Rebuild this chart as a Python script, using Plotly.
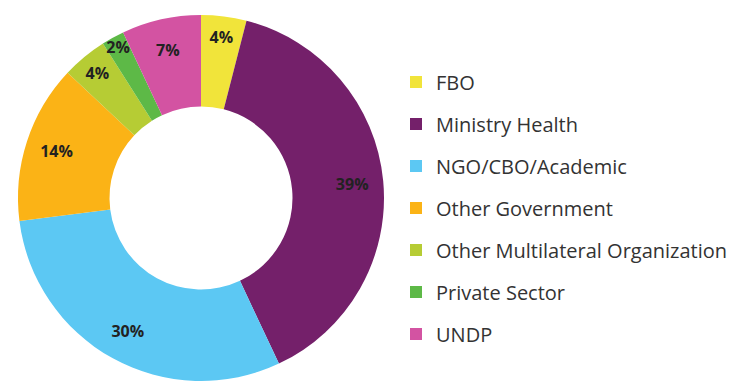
import plotly.graph_objects as go

# Share of funding by partner type (percent)
labels = ["FBO", "Ministry Health", "NGO/CBO/Academic", "Other Government",
          "Other Multilateral Organization", "Private Sector", "UNDP"]
values = [4, 39, 30, 14, 4, 2, 7]
colors = ["#f1e43a", "#74206a", "#5cc8f3", "#fbb316", "#b6cc34", "#5db947", "#d353a2"]

W, H = 736, 381
pie_domain = dict(x=[17 / W, 385 / W], y=[0.0, 366 / H])

fig = go.Figure()

# Coloured ring
fig.add_trace(go.Pie(
    labels=labels,
    values=values,
    sort=False,
    direction="clockwise",
    rotation=0,
    hole=0.5,
    marker=dict(colors=colors, line=dict(width=0)),
    textinfo="none",
    hoverinfo="label+value",
    domain=pie_domain,
    showlegend=False,
))

# Percentage labels, set on the outer part of the ring
fig.add_trace(go.Pie(
    labels=labels,
    values=values,
    sort=False,
    direction="clockwise",
    rotation=0,
    hole=0.66,
    marker=dict(colors=["rgba(0,0,0,0)"] * len(values), line=dict(width=0)),
    texttemplate="%{value}%",
    textposition="inside",
    insidetextorientation="horizontal",
    insidetextfont=dict(family="Open Sans", size=16, color="#222222", weight="bold"),
    hoverinfo="skip",
    domain=pie_domain,
    showlegend=False,
))

# Legend entries, one group each so the rows can be spaced apart
for lab, col in zip(labels, colors):
    fig.add_trace(go.Scatter(
        x=[None], y=[None], mode="markers", name=lab, legendgroup=lab,
        marker=dict(symbol="square", size=12, color=col),
    ))

fig.update_layout(
    width=W, height=H,
    margin=dict(l=0, r=0, t=0, b=0),
    paper_bgcolor="white",
    plot_bgcolor="white",
    xaxis=dict(visible=False),
    yaxis=dict(visible=False),
    uniformtext=dict(minsize=16, mode="show"),
    legend=dict(
        x=396 / W, xanchor="left",
        y=(H - 208) / H, yanchor="middle",
        font=dict(family="Open Sans", size=20, color="#333333"),
        tracegroupgap=13,
        itemclick=False,
    ),
)

fig.write_html("out.html")
